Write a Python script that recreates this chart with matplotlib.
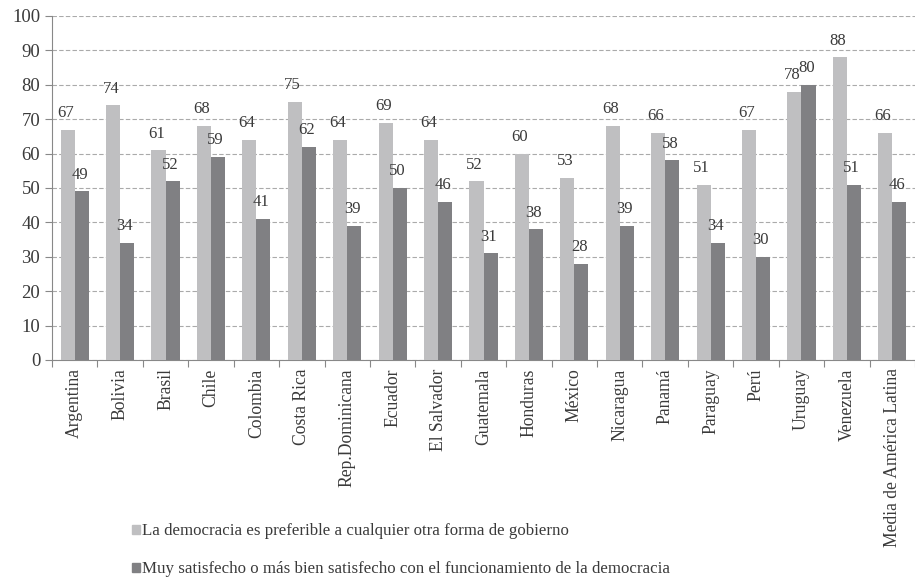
import matplotlib.pyplot as plt
import numpy as np
from matplotlib.patches import Patch

plt.rcParams['font.family'] = ['Liberation Serif', 'DejaVu Serif']

paises = ['Argentina', 'Bolivia', 'Brasil', 'Chile', 'Colombia', 'Costa Rica',
          'Rep.Dominicana', 'Ecuador', 'El Salvador', 'Guatemala', 'Honduras',
          'México', 'Nicaragua', 'Panamá', 'Paraguay', 'Perú', 'Uruguay',
          'Venezuela', 'Media de América Latina']
preferible = [67, 74, 61, 68, 64, 75, 64, 69, 64, 52, 60, 53, 68, 66, 51, 67, 78, 88, 66]
satisfecho = [49, 34, 52, 59, 41, 62, 39, 50, 46, 31, 38, 28, 39, 58, 34, 30, 80, 51, 46]

serie1 = 'La democracia es preferible a cualquier otra forma de gobierno'
serie2 = 'Muy satisfecho o más bien satisfecho con el funcionamiento de la democracia'

c_claro = '#bfbfc1'
c_oscuro = '#808083'
txt = '#3a3a3a'

fig = plt.figure(figsize=(9.15, 5.77), dpi=100)
ax = fig.add_axes([52 / 915, 1 - 360 / 577, 1 - 52 / 915, 344 / 577])

x = np.arange(len(paises))
w = 0.31
b1 = ax.bar(x - w / 2, preferible, w, color=c_claro, zorder=3)
b2 = ax.bar(x + w / 2, satisfecho, w, color=c_oscuro, zorder=3)

for rect, v in zip(b1, preferible):
    ax.text(rect.get_x() + rect.get_width() / 2 - 0.05, v + 2.5, str(v),
            ha='center', va='bottom', fontsize=12, color=txt)
for rect, v in zip(b2, satisfecho):
    ax.text(rect.get_x() + rect.get_width() / 2 - 0.05, v + 2.5, str(v),
            ha='center', va='bottom', fontsize=12, color=txt)

ax.set_ylim(0, 100)
ax.set_xlim(-0.5, len(paises) - 0.5)
ax.set_yticks(range(0, 101, 10))
ax.yaxis.grid(True, linestyle=(0, (4, 2)), color='#aaaaaa', linewidth=0.8, zorder=0)

ax.set_xticks(np.arange(len(paises) + 1) - 0.5)
ax.set_xticklabels([])
ax.set_xticks(x, minor=True)
ax.set_xticklabels(paises, minor=True, rotation=90, fontsize=12.7, color=txt)
ax.tick_params(axis='x', which='minor', length=0, pad=6)
ax.tick_params(axis='x', which='major', length=5, color='#888888')
ax.tick_params(axis='y', length=5, color='#888888', labelsize=13.5, labelcolor=txt)

for s in ['top', 'right']:
    ax.spines[s].set_visible(False)
for s in ['left', 'bottom']:
    ax.spines[s].set_color('#888888')

handles = [Patch(color=c_claro, label=serie1), Patch(color=c_oscuro, label=serie2)]
fig.legend(handles=handles, loc='lower left', bbox_to_anchor=(117 / 915, -0.027),
           frameon=False, fontsize=12.2, labelcolor=txt, handlelength=0.45,
           handleheight=0.45, handletextpad=0.15, labelspacing=1.3)

fig.savefig('out.png', dpi=100)
